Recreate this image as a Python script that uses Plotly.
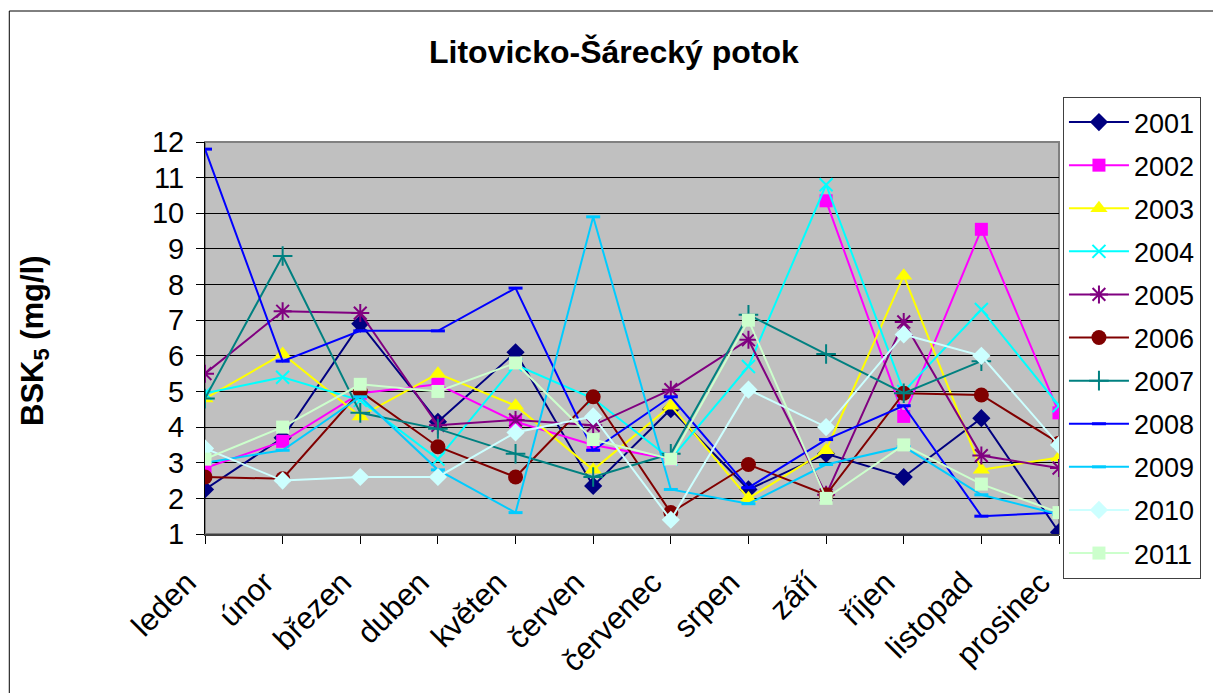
import plotly.graph_objects as go

months = ["leden", "únor", "březen", "duben", "květen", "červen", "červenec",
          "srpen", "září", "říjen", "listopad", "prosinec"]

y2001 = [2.25, 3.7, 6.9, 4.15, 6.1, 2.35, 4.5, 2.25, 3.25, 2.6, 4.25, 1.05]
y2002 = [2.85, 3.6, 4.95, 5.2, 4.15, 3.5, 3.1, None, 10.35, 4.3, 9.55, 4.4]
y2003 = [4.8, 6.05, 4.3, 5.5, 4.6, 2.8, 4.6, 2.0, 3.35, 8.25, 2.8, 3.15]
y2004 = [4.95, 5.4, 4.75, 3.1, 5.75, 4.8, 3.1, 5.7, 10.8, 5.0, 7.3, 4.6]
y2005 = [5.5, 7.25, 7.2, 4.05, 4.2, 4.05, 5.05, 6.45, 2.1, 6.95, 3.2, 2.85]
y2006 = [2.6, 2.55, 5.0, 3.45, 2.6, 4.85, 1.6, 2.95, 2.1, 4.95, 4.9, 3.55]
y2007 = [4.8, 8.8, 4.4, 3.95, 3.25, 2.6, 3.25, 7.15, 6.05, 4.95, 5.85, None]
y2008 = [11.8, 5.85, 6.7, 6.7, 7.9, 3.35, 4.85, 2.3, 3.65, 4.6, 1.5, 1.6]
y2009 = [3.0, 3.35, 4.85, 2.8, 1.6, 9.9, 2.25, 1.85, 2.95, 3.45, 2.1, 1.55]
y2010 = [3.4, 2.5, 2.6, 2.6, 3.85, 4.3, 1.4, 5.05, 4.0, 6.6, 6.0, 3.5]
y2011 = [3.1, 4.0, 5.2, 5.0, 5.8, 3.65, 3.1, 7.0, 2.0, 3.5, 2.4, 1.6]

years = ["2001", "2002", "2003", "2004", "2005", "2006", "2007", "2008", "2009", "2010", "2011"]
series = [y2001, y2002, y2003, y2004, y2005, y2006, y2007, y2008, y2009, y2010, y2011]

colors = ["#000080", "#FF00FF", "#FFFF00", "#00FFFF", "#800080", "#800000",
          "#008080", "#0000FF", "#00CCFF", "#CCFFFF", "#CCFFCC"]
symbols = ["diamond", "square", "triangle-up", "x-thin-open", "asterisk-open", "circle",
           "cross-thin-open", "line-ew-open", "line-ew-open", "diamond", "square"]
sizes = [14, 13, 15, 13, 15, 15, 14, 10, 10, 14, 13]
mline = [0, 0, 0, 2, 2, 0, 2, 3, 3, 0, 0]

FONT = "Liberation Sans, Arial, sans-serif"

fig = go.Figure()
for name, ys, c, s, sz, lw in zip(years, series, colors, symbols, sizes, mline):
    fig.add_trace(go.Scatter(
        x=months, y=ys, name=name, mode="lines+markers",
        legendgroup=name,
        line=dict(color=c, width=2),
        marker=dict(symbol=s, size=sz, color=c, line=dict(color=c, width=lw)),
        connectgaps=False,
    ))

W, H = 1213, 693
L, R, T, B = 205, 1069, 142, 534  # plot area in window pixels
pw, ph = R - L, B - T

def px(x):
    return (x - L) / pw

def py(y):
    return (B - y) / ph

fig.update_layout(
    width=W, height=H, autosize=False,
    margin=dict(l=L, r=W - R, t=T, b=H - B, pad=0),
    paper_bgcolor="white", plot_bgcolor="#C0C0C0",
    font=dict(family=FONT, color="black", size=27),
    showlegend=True,
    legend=dict(
        x=px(1073), y=py(97), xanchor="left", yanchor="top",
        bgcolor="white", bordercolor="#404040", borderwidth=1,
        font=dict(family=FONT, size=27, color="black"),
        tracegroupgap=5, itemwidth=60, maxheight=560,
    ),
    xaxis=dict(
        type="category", range=[0, 11], showgrid=False,
        showline=True, linecolor="#404040", linewidth=2,
        ticks="outside", ticklen=8, tickcolor="black", tickwidth=1,
        tickangle=-45, tickfont=dict(family=FONT, size=31, color="black"),
        ticklabelshift=-18, ticklabelstandoff=8,
        automargin=False, zeroline=False,
    ),
    yaxis=dict(
        range=[1, 12], dtick=1, tick0=1,
        showgrid=True, gridcolor="black", gridwidth=1,
        showline=True, linecolor="black", linewidth=1,
        ticks="outside", ticklen=8, tickcolor="black",
        tickfont=dict(family=FONT, size=29, color="black"),
        ticklabelstandoff=6,
        automargin=False, zeroline=False,
    ),
    shapes=[
        dict(type="rect", xref="paper", yref="paper", x0=0, x1=1, y0=0, y1=1,
             line=dict(color="#808080", width=2), layer="below"),
        dict(type="rect", xref="paper", yref="paper",
             x0=px(7), x1=px(1240), y0=py(11), y1=py(720),
             line=dict(color="black", width=1), layer="below"),
    ],
    annotations=[
        dict(text="<b>Litovicko-Šárecký potok</b>", xref="paper", yref="paper",
             x=px(619), y=py(52), xanchor="center", yanchor="middle",
             showarrow=False, font=dict(family=FONT, size=32, color="black")),
        dict(text="<b>BSK<sub>5</sub> (mg/l)</b>", xref="paper", yref="paper",
             x=px(33), y=py(340), xanchor="center", yanchor="middle",
             textangle=-90, showarrow=False,
             font=dict(family=FONT, size=31, color="black")),
    ],
)

fig.write_html(
    "out.html",
    config={"displayModeBar": False},
    post_script="document.body.style.margin='0';document.body.style.overflow='hidden';",
)
